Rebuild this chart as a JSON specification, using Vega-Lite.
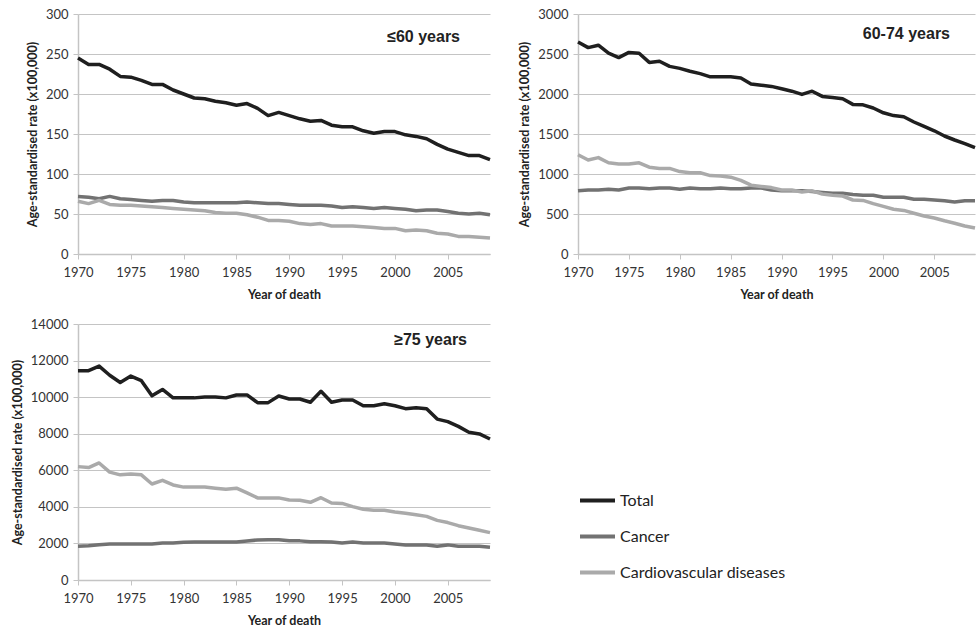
{
  "$schema": "https://vega.github.io/schema/vega-lite/v6.json",
  "background": "white",
  "padding": {"left": 11, "top": 8, "right": 4, "bottom": 4},
  "datasets": {
    "age_le60": [
      {"year": 1970, "Total": 245, "Cancer": 72, "Cardiovascular diseases": 66},
      {"year": 1971, "Total": 237, "Cancer": 71, "Cardiovascular diseases": 63},
      {"year": 1972, "Total": 237, "Cancer": 69, "Cardiovascular diseases": 67},
      {"year": 1973, "Total": 231, "Cancer": 72, "Cardiovascular diseases": 62},
      {"year": 1974, "Total": 222, "Cancer": 69, "Cardiovascular diseases": 61},
      {"year": 1975, "Total": 221, "Cancer": 68, "Cardiovascular diseases": 61},
      {"year": 1976, "Total": 217, "Cancer": 67, "Cardiovascular diseases": 60},
      {"year": 1977, "Total": 212, "Cancer": 66, "Cardiovascular diseases": 59},
      {"year": 1978, "Total": 212, "Cancer": 67, "Cardiovascular diseases": 58},
      {"year": 1979, "Total": 205, "Cancer": 67, "Cardiovascular diseases": 57},
      {"year": 1980, "Total": 200, "Cancer": 65, "Cardiovascular diseases": 56},
      {"year": 1981, "Total": 195, "Cancer": 64, "Cardiovascular diseases": 55},
      {"year": 1982, "Total": 194, "Cancer": 64, "Cardiovascular diseases": 54},
      {"year": 1983, "Total": 191, "Cancer": 64, "Cardiovascular diseases": 52},
      {"year": 1984, "Total": 189, "Cancer": 64, "Cardiovascular diseases": 51},
      {"year": 1985, "Total": 186, "Cancer": 64, "Cardiovascular diseases": 51},
      {"year": 1986, "Total": 188, "Cancer": 65, "Cardiovascular diseases": 49},
      {"year": 1987, "Total": 182, "Cancer": 64, "Cardiovascular diseases": 46},
      {"year": 1988, "Total": 173, "Cancer": 63, "Cardiovascular diseases": 42},
      {"year": 1989, "Total": 177, "Cancer": 63, "Cardiovascular diseases": 42},
      {"year": 1990, "Total": 173, "Cancer": 62, "Cardiovascular diseases": 41},
      {"year": 1991, "Total": 169, "Cancer": 61, "Cardiovascular diseases": 38},
      {"year": 1992, "Total": 166, "Cancer": 61, "Cardiovascular diseases": 37},
      {"year": 1993, "Total": 167, "Cancer": 61, "Cardiovascular diseases": 38},
      {"year": 1994, "Total": 161, "Cancer": 60, "Cardiovascular diseases": 35},
      {"year": 1995, "Total": 159, "Cancer": 58, "Cardiovascular diseases": 35},
      {"year": 1996, "Total": 159, "Cancer": 59, "Cardiovascular diseases": 35},
      {"year": 1997, "Total": 154, "Cancer": 58, "Cardiovascular diseases": 34},
      {"year": 1998, "Total": 151, "Cancer": 57, "Cardiovascular diseases": 33},
      {"year": 1999, "Total": 153, "Cancer": 58, "Cardiovascular diseases": 32},
      {"year": 2000, "Total": 153, "Cancer": 57, "Cardiovascular diseases": 32},
      {"year": 2001, "Total": 149, "Cancer": 56, "Cardiovascular diseases": 29},
      {"year": 2002, "Total": 147, "Cancer": 54, "Cardiovascular diseases": 30},
      {"year": 2003, "Total": 144, "Cancer": 55, "Cardiovascular diseases": 29},
      {"year": 2004, "Total": 137, "Cancer": 55, "Cardiovascular diseases": 26},
      {"year": 2005, "Total": 131, "Cancer": 53, "Cardiovascular diseases": 25},
      {"year": 2006, "Total": 127, "Cancer": 51, "Cardiovascular diseases": 22},
      {"year": 2007, "Total": 123, "Cancer": 50, "Cardiovascular diseases": 22},
      {"year": 2008, "Total": 123, "Cancer": 51, "Cardiovascular diseases": 21},
      {"year": 2009, "Total": 118, "Cancer": 49, "Cardiovascular diseases": 20}
    ],
    "age_60_74": [
      {"year": 1970, "Total": 2650, "Cancer": 790, "Cardiovascular diseases": 1240},
      {"year": 1971, "Total": 2580, "Cancer": 800, "Cardiovascular diseases": 1175},
      {"year": 1972, "Total": 2610, "Cancer": 800, "Cardiovascular diseases": 1205},
      {"year": 1973, "Total": 2510, "Cancer": 810, "Cardiovascular diseases": 1140},
      {"year": 1974, "Total": 2455, "Cancer": 800, "Cardiovascular diseases": 1125},
      {"year": 1975, "Total": 2520, "Cancer": 825, "Cardiovascular diseases": 1125},
      {"year": 1976, "Total": 2510, "Cancer": 825, "Cardiovascular diseases": 1140},
      {"year": 1977, "Total": 2395, "Cancer": 815, "Cardiovascular diseases": 1085},
      {"year": 1978, "Total": 2410, "Cancer": 825, "Cardiovascular diseases": 1070},
      {"year": 1979, "Total": 2345, "Cancer": 825, "Cardiovascular diseases": 1070},
      {"year": 1980, "Total": 2320, "Cancer": 810, "Cardiovascular diseases": 1030},
      {"year": 1981, "Total": 2285, "Cancer": 825, "Cardiovascular diseases": 1015},
      {"year": 1982, "Total": 2255, "Cancer": 815, "Cardiovascular diseases": 1015},
      {"year": 1983, "Total": 2215, "Cancer": 815, "Cardiovascular diseases": 980},
      {"year": 1984, "Total": 2215, "Cancer": 825, "Cardiovascular diseases": 975},
      {"year": 1985, "Total": 2215, "Cancer": 815, "Cardiovascular diseases": 960},
      {"year": 1986, "Total": 2200, "Cancer": 815, "Cardiovascular diseases": 920},
      {"year": 1987, "Total": 2125, "Cancer": 825, "Cardiovascular diseases": 860},
      {"year": 1988, "Total": 2110, "Cancer": 825, "Cardiovascular diseases": 845},
      {"year": 1989, "Total": 2095, "Cancer": 800, "Cardiovascular diseases": 830},
      {"year": 1990, "Total": 2065, "Cancer": 790, "Cardiovascular diseases": 800},
      {"year": 1991, "Total": 2035, "Cancer": 790, "Cardiovascular diseases": 800},
      {"year": 1992, "Total": 1995, "Cancer": 790, "Cardiovascular diseases": 775},
      {"year": 1993, "Total": 2035, "Cancer": 780, "Cardiovascular diseases": 790},
      {"year": 1994, "Total": 1970, "Cancer": 770, "Cardiovascular diseases": 750},
      {"year": 1995, "Total": 1955, "Cancer": 760, "Cardiovascular diseases": 735},
      {"year": 1996, "Total": 1940, "Cancer": 760, "Cardiovascular diseases": 725},
      {"year": 1997, "Total": 1870, "Cancer": 745, "Cardiovascular diseases": 675},
      {"year": 1998, "Total": 1865, "Cancer": 735, "Cardiovascular diseases": 670},
      {"year": 1999, "Total": 1825, "Cancer": 735, "Cardiovascular diseases": 630},
      {"year": 2000, "Total": 1765, "Cancer": 710, "Cardiovascular diseases": 595},
      {"year": 2001, "Total": 1730, "Cancer": 710, "Cardiovascular diseases": 560},
      {"year": 2002, "Total": 1715, "Cancer": 710, "Cardiovascular diseases": 545},
      {"year": 2003, "Total": 1650, "Cancer": 685, "Cardiovascular diseases": 510},
      {"year": 2004, "Total": 1595, "Cancer": 685, "Cardiovascular diseases": 475},
      {"year": 2005, "Total": 1540, "Cancer": 675, "Cardiovascular diseases": 450},
      {"year": 2006, "Total": 1475, "Cancer": 665, "Cardiovascular diseases": 415},
      {"year": 2007, "Total": 1425, "Cancer": 650, "Cardiovascular diseases": 385},
      {"year": 2008, "Total": 1380, "Cancer": 665, "Cardiovascular diseases": 350},
      {"year": 2009, "Total": 1330, "Cancer": 665, "Cardiovascular diseases": 325}
    ],
    "age_ge75": [
      {"year": 1970, "Total": 11450, "Cancer": 1850, "Cardiovascular diseases": 6200},
      {"year": 1971, "Total": 11450, "Cancer": 1870, "Cardiovascular diseases": 6150},
      {"year": 1972, "Total": 11700, "Cancer": 1930, "Cardiovascular diseases": 6400},
      {"year": 1973, "Total": 11200, "Cancer": 1970, "Cardiovascular diseases": 5900},
      {"year": 1974, "Total": 10800, "Cancer": 1970, "Cardiovascular diseases": 5750},
      {"year": 1975, "Total": 11150, "Cancer": 1970, "Cardiovascular diseases": 5800},
      {"year": 1976, "Total": 10900, "Cancer": 1970, "Cardiovascular diseases": 5750},
      {"year": 1977, "Total": 10070, "Cancer": 1970, "Cardiovascular diseases": 5250},
      {"year": 1978, "Total": 10420, "Cancer": 2020, "Cardiovascular diseases": 5450},
      {"year": 1979, "Total": 9960, "Cancer": 2020, "Cardiovascular diseases": 5200},
      {"year": 1980, "Total": 9960, "Cancer": 2070, "Cardiovascular diseases": 5080},
      {"year": 1981, "Total": 9960, "Cancer": 2080, "Cardiovascular diseases": 5080},
      {"year": 1982, "Total": 10010, "Cancer": 2080, "Cardiovascular diseases": 5080},
      {"year": 1983, "Total": 10010, "Cancer": 2080, "Cardiovascular diseases": 5020},
      {"year": 1984, "Total": 9960, "Cancer": 2080, "Cardiovascular diseases": 4960},
      {"year": 1985, "Total": 10120, "Cancer": 2080, "Cardiovascular diseases": 5020},
      {"year": 1986, "Total": 10120, "Cancer": 2130, "Cardiovascular diseases": 4760},
      {"year": 1987, "Total": 9700, "Cancer": 2190, "Cardiovascular diseases": 4490},
      {"year": 1988, "Total": 9700, "Cancer": 2200, "Cardiovascular diseases": 4490},
      {"year": 1989, "Total": 10060, "Cancer": 2200, "Cardiovascular diseases": 4490},
      {"year": 1990, "Total": 9900, "Cancer": 2150, "Cardiovascular diseases": 4380},
      {"year": 1991, "Total": 9900, "Cancer": 2140, "Cardiovascular diseases": 4360},
      {"year": 1992, "Total": 9720, "Cancer": 2090, "Cardiovascular diseases": 4250},
      {"year": 1993, "Total": 10320, "Cancer": 2090, "Cardiovascular diseases": 4500},
      {"year": 1994, "Total": 9720, "Cancer": 2080, "Cardiovascular diseases": 4210},
      {"year": 1995, "Total": 9840, "Cancer": 2020, "Cardiovascular diseases": 4190},
      {"year": 1996, "Total": 9840, "Cancer": 2080, "Cardiovascular diseases": 4010},
      {"year": 1997, "Total": 9530, "Cancer": 2020, "Cardiovascular diseases": 3870},
      {"year": 1998, "Total": 9530, "Cancer": 2020, "Cardiovascular diseases": 3810},
      {"year": 1999, "Total": 9640, "Cancer": 2020, "Cardiovascular diseases": 3810},
      {"year": 2000, "Total": 9530, "Cancer": 1970, "Cardiovascular diseases": 3720},
      {"year": 2001, "Total": 9370, "Cancer": 1920, "Cardiovascular diseases": 3650},
      {"year": 2002, "Total": 9420, "Cancer": 1920, "Cardiovascular diseases": 3570},
      {"year": 2003, "Total": 9370, "Cancer": 1920, "Cardiovascular diseases": 3480},
      {"year": 2004, "Total": 8800, "Cancer": 1850, "Cardiovascular diseases": 3260},
      {"year": 2005, "Total": 8660, "Cancer": 1920, "Cardiovascular diseases": 3140},
      {"year": 2006, "Total": 8400, "Cancer": 1840, "Cardiovascular diseases": 2970},
      {"year": 2007, "Total": 8080, "Cancer": 1840, "Cardiovascular diseases": 2840},
      {"year": 2008, "Total": 7990, "Cancer": 1840, "Cardiovascular diseases": 2720},
      {"year": 2009, "Total": 7710, "Cancer": 1790, "Cardiovascular diseases": 2590}
    ]
  },
  "columns": 2,
  "bounds": "flush",
  "align": "each",
  "spacing": {"column": 88, "row": 70},
  "concat": [
    {
      "width": 412,
      "height": 240,
      "title": {"text": "≤60 years", "dy": 41, "dx": -30},
      "data": {"name": "age_le60"},
      "transform": [{"fold": ["Total", "Cancer", "Cardiovascular diseases"], "as": ["cause", "rate"]}],
      "mark": {"type": "line", "strokeWidth": 3.5, "strokeJoin": "round"},
      "encoding": {
        "x": {"field": "year", "type": "quantitative", "title": "Year of death",
              "scale": {"domain": [1970, 2009], "nice": false, "zero": false}},
        "y": {"field": "rate", "type": "quantitative", "title": "Age-standardised rate (x100,000)",
              "scale": {"domain": [0, 300], "nice": false},
              "axis": {"values": [0, 50, 100, 150, 200, 250, 300]}},
        "color": {"field": "cause", "type": "nominal",
                  "scale": {"domain": ["Total", "Cancer", "Cardiovascular diseases"], "range": ["#1f1f1f", "#727272", "#aaaaaa"]},
                  "legend": {"orient": "none", "legendX": 500, "legendY": 467, "title": null}}
      }
    },
    {
      "width": 397,
      "height": 240,
      "title": {"text": "60-74 years", "dy": 38, "dx": -25},
      "data": {"name": "age_60_74"},
      "transform": [{"fold": ["Total", "Cancer", "Cardiovascular diseases"], "as": ["cause", "rate"]}],
      "mark": {"type": "line", "strokeWidth": 3.5, "strokeJoin": "round"},
      "encoding": {
        "x": {"field": "year", "type": "quantitative", "title": "Year of death",
              "scale": {"domain": [1970, 2009], "nice": false, "zero": false}},
        "y": {"field": "rate", "type": "quantitative", "title": "Age-standardised rate (x100,000)",
              "scale": {"domain": [0, 3000], "nice": false},
              "axis": {"values": [0, 500, 1000, 1500, 2000, 2500, 3000]}},
        "color": {"field": "cause", "type": "nominal",
                  "scale": {"domain": ["Total", "Cancer", "Cardiovascular diseases"], "range": ["#1f1f1f", "#727272", "#aaaaaa"]},
                  "legend": {"orient": "none", "legendX": 500, "legendY": 467, "title": null}}
      }
    },
    {
      "width": 412,
      "height": 256,
      "title": {"text": "≥75 years", "dy": 34, "dx": -23},
      "data": {"name": "age_ge75"},
      "transform": [{"fold": ["Total", "Cancer", "Cardiovascular diseases"], "as": ["cause", "rate"]}],
      "mark": {"type": "line", "strokeWidth": 3.5, "strokeJoin": "round"},
      "encoding": {
        "x": {"field": "year", "type": "quantitative", "title": "Year of death",
              "scale": {"domain": [1970, 2009], "nice": false, "zero": false}},
        "y": {"field": "rate", "type": "quantitative", "title": "Age-standardised rate (x100,000)",
              "scale": {"domain": [0, 14000], "nice": false},
              "axis": {"values": [0, 2000, 4000, 6000, 8000, 10000, 12000, 14000]}},
        "color": {"field": "cause", "type": "nominal",
                  "scale": {"domain": ["Total", "Cancer", "Cardiovascular diseases"], "range": ["#1f1f1f", "#727272", "#aaaaaa"]},
                  "legend": {"orient": "none", "legendX": 500, "legendY": 467, "title": null}}
      }
    }
  ],
  "config": {
    "view": {"stroke": null},
    "font": "Lato",
    "title": {
      "anchor": "end", "frame": "group", "orient": "top", "offset": 0,
      "baseline": "alphabetic", "font": "Liberation Sans", "fontSize": 16, "fontWeight": "bold", "color": "#222222"
    },
    "axis": {
      "labelFont": "Lato", "labelFontSize": 13, "labelColor": "#333333",
      "titleFont": "Lato", "titleFontSize": 12.5, "titleFontWeight": "bold", "titleColor": "#222222",
      "domainColor": "#c4c4c4", "domainWidth": 1.5, "tickColor": "#c4c4c4", "tickWidth": 1,
      "gridColor": "#c4c4c4", "gridWidth": 1
    },
    "axisX": {
      "grid": false, "tickSize": 5, "labelPadding": 7, "titlePadding": 9,
      "values": [1970, 1971, 1972, 1973, 1974, 1975, 1976, 1977, 1978, 1979, 1980, 1981, 1982, 1983, 1984, 1985, 1986, 1987, 1988, 1989, 1990, 1991, 1992, 1993, 1994, 1995, 1996, 1997, 1998, 1999, 2000, 2001, 2002, 2003, 2004, 2005, 2006, 2007, 2008, 2009],
      "format": "d", "labelExpr": "datum.value % 5 === 0 ? datum.label : ''",
      "labelOverlap": false, "labelFlush": false
    },
    "axisY": {"grid": true, "tickSize": 5, "labelPadding": 5, "titlePadding": 6, "format": "d"},
    "legend": {
      "symbolType": "stroke", "symbolSize": 1225, "symbolStrokeWidth": 4,
      "labelFont": "Lato", "labelFontSize": 16, "labelColor": "#222222", "labelOffset": 3,
      "labelLimit": 400, "rowPadding": 8
    }
  }
}
